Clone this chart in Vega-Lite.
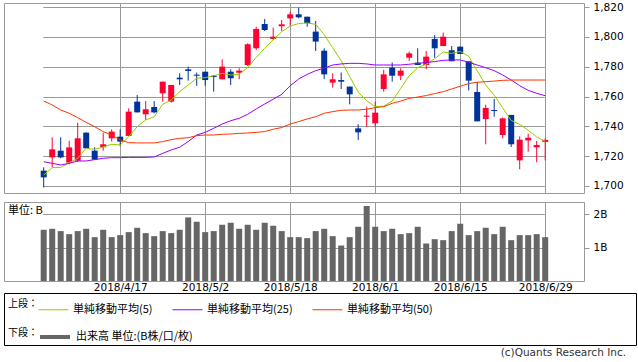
{
  "$schema": "https://vega.github.io/schema/vega-lite/v6.json",
  "padding": {"left": 3, "top": 1, "right": 0, "bottom": 0},
  "background": "white",
  "config": {
    "view": {"stroke": "#999999", "strokeWidth": 1},
    "axis": {"labelFont": "DejaVu Sans", "labelColor": "#000000", "gridColor": "#999999", "gridWidth": 1, "tickColor": "#999999"},
    "legend": {"labelFont": "Noto Sans CJK JP", "titleFont": "Noto Sans CJK JP"}
  },
  "datasets": {
    "px": [
      {"d":"2018/4/4","o":1710.3,"h":1712.5,"l":1699.0,"c":1705.8,"ma5":1707.4,"ma25":1716.3,"ma50":1757.0,"v":1.53},
      {"d":"2018/4/5","o":1719.2,"h":1732.7,"l":1712.5,"c":1724.6,"ma5":1712.3,"ma25":1715.2,"ma50":1754.4,"v":1.56},
      {"d":"2018/4/6","o":1723.7,"h":1732.7,"l":1718.6,"c":1719.2,"ma5":1712.5,"ma25":1714.1,"ma50":1751.0,"v":1.49},
      {"d":"2018/4/9","o":1715.7,"h":1730.4,"l":1714.5,"c":1725.9,"ma5":1715.7,"ma25":1715.2,"ma50":1748.8,"v":1.40},
      {"d":"2018/4/10","o":1717.0,"h":1742.5,"l":1716.0,"c":1732.0,"ma5":1718.6,"ma25":1716.8,"ma50":1745.9,"v":1.49},
      {"d":"2018/4/11","o":1735.8,"h":1736.0,"l":1725.3,"c":1725.3,"ma5":1725.3,"ma25":1716.8,"ma50":1742.7,"v":1.56},
      {"d":"2018/4/12","o":1723.7,"h":1726.0,"l":1717.5,"c":1717.7,"ma5":1724.6,"ma25":1717.7,"ma50":1739.8,"v":1.31},
      {"d":"2018/4/13","o":1726.0,"h":1735.8,"l":1723.7,"c":1728.0,"ma5":1726.2,"ma25":1718.6,"ma50":1736.5,"v":1.53},
      {"d":"2018/4/16","o":1732.0,"h":1738.0,"l":1729.8,"c":1736.5,"ma5":1728.0,"ma25":1719.0,"ma50":1734.2,"v":1.31},
      {"d":"2018/4/17","o":1733.1,"h":1738.0,"l":1726.8,"c":1729.8,"ma5":1727.5,"ma25":1719.0,"ma50":1730.9,"v":1.37},
      {"d":"2018/4/18","o":1733.6,"h":1752.1,"l":1733.6,"c":1749.9,"ma5":1733.1,"ma25":1719.2,"ma50":1729.1,"v":1.46},
      {"d":"2018/4/19","o":1756.6,"h":1761.1,"l":1749.4,"c":1749.4,"ma5":1739.8,"ma25":1719.2,"ma50":1728.9,"v":1.59},
      {"d":"2018/4/20","o":1748.1,"h":1757.0,"l":1744.3,"c":1751.5,"ma5":1744.3,"ma25":1719.2,"ma50":1728.9,"v":1.43},
      {"d":"2018/4/23","o":1753.0,"h":1757.0,"l":1748.8,"c":1749.4,"ma5":1746.5,"ma25":1719.5,"ma50":1728.9,"v":1.34},
      {"d":"2018/4/24","o":1762.2,"h":1770.0,"l":1756.6,"c":1770.0,"ma5":1754.8,"ma25":1721.9,"ma50":1729.8,"v":1.49},
      {"d":"2018/4/25","o":1756.6,"h":1767.8,"l":1755.9,"c":1767.8,"ma5":1757.7,"ma25":1724.2,"ma50":1731.1,"v":1.43},
      {"d":"2018/4/26","o":1772.7,"h":1775.6,"l":1767.8,"c":1771.6,"ma5":1763.3,"ma25":1726.0,"ma50":1732.0,"v":1.53},
      {"d":"2018/4/27","o":1778.3,"h":1780.1,"l":1770.7,"c":1777.2,"ma5":1767.8,"ma25":1729.8,"ma50":1732.4,"v":1.90},
      {"d":"2018/5/1","o":1774.7,"h":1776.1,"l":1767.3,"c":1774.0,"ma5":1772.3,"ma25":1734.2,"ma50":1733.8,"v":1.77},
      {"d":"2018/5/2","o":1776.7,"h":1776.7,"l":1767.3,"c":1771.1,"ma5":1772.7,"ma25":1736.0,"ma50":1734.2,"v":1.46},
      {"d":"2018/5/7","o":1774.0,"h":1774.5,"l":1763.3,"c":1773.2,"ma5":1774.0,"ma25":1738.7,"ma50":1734.2,"v":1.49},
      {"d":"2018/5/8","o":1771.6,"h":1785.0,"l":1771.6,"c":1780.1,"ma5":1775.6,"ma25":1741.6,"ma50":1734.7,"v":1.68},
      {"d":"2018/5/9","o":1776.7,"h":1778.3,"l":1767.8,"c":1772.3,"ma5":1774.5,"ma25":1743.8,"ma50":1734.9,"v":1.74},
      {"d":"2018/5/10","o":1776.0,"h":1779.0,"l":1771.6,"c":1777.4,"ma5":1775.0,"ma25":1745.4,"ma50":1735.3,"v":1.56},
      {"d":"2018/5/11","o":1781.2,"h":1795.7,"l":1780.5,"c":1795.1,"ma5":1779.5,"ma25":1748.1,"ma50":1735.6,"v":1.68},
      {"d":"2018/5/14","o":1792.4,"h":1806.9,"l":1791.3,"c":1805.4,"ma5":1786.3,"ma25":1751.7,"ma50":1736.0,"v":1.53},
      {"d":"2018/5/15","o":1808.7,"h":1812.1,"l":1804.0,"c":1804.7,"ma5":1792.5,"ma25":1755.0,"ma50":1736.5,"v":1.74},
      {"d":"2018/5/16","o":1798.7,"h":1806.3,"l":1798.0,"c":1800.2,"ma5":1798.0,"ma25":1758.2,"ma50":1738.1,"v":1.65},
      {"d":"2018/5/17","o":1807.2,"h":1811.4,"l":1804.0,"c":1808.5,"ma5":1803.5,"ma25":1761.5,"ma50":1739.2,"v":1.49},
      {"d":"2018/5/18","o":1812.5,"h":1817.0,"l":1807.6,"c":1815.2,"ma5":1807.3,"ma25":1767.3,"ma50":1741.6,"v":1.31},
      {"d":"2018/5/21","o":1815.2,"h":1819.7,"l":1812.5,"c":1813.2,"ma5":1809.0,"ma25":1771.8,"ma50":1743.2,"v":1.31},
      {"d":"2018/5/22","o":1813.6,"h":1813.6,"l":1806.9,"c":1809.2,"ma5":1809.4,"ma25":1774.9,"ma50":1745.0,"v":1.28},
      {"d":"2018/5/23","o":1803.6,"h":1810.7,"l":1790.6,"c":1796.9,"ma5":1808.5,"ma25":1777.4,"ma50":1746.5,"v":1.49},
      {"d":"2018/5/24","o":1790.8,"h":1792.4,"l":1771.8,"c":1774.9,"ma5":1801.5,"ma25":1779.0,"ma50":1748.8,"v":1.56},
      {"d":"2018/5/25","o":1769.4,"h":1775.6,"l":1766.0,"c":1771.6,"ma5":1792.8,"ma25":1781.2,"ma50":1749.9,"v":1.34},
      {"d":"2018/5/28","o":1771.1,"h":1776.1,"l":1765.1,"c":1770.0,"ma5":1784.0,"ma25":1781.9,"ma50":1750.8,"v":1.06},
      {"d":"2018/5/29","o":1766.7,"h":1766.7,"l":1754.8,"c":1761.5,"ma5":1773.5,"ma25":1782.3,"ma50":1751.0,"v":1.31},
      {"d":"2018/5/30","o":1738.7,"h":1741.4,"l":1730.9,"c":1736.0,"ma5":1763.0,"ma25":1782.3,"ma50":1751.0,"v":1.62},
      {"d":"2018/5/31","o":1746.5,"h":1753.2,"l":1739.8,"c":1747.2,"ma5":1757.2,"ma25":1781.9,"ma50":1751.5,"v":2.24},
      {"d":"2018/6/1","o":1742.1,"h":1756.6,"l":1739.8,"c":1749.2,"ma5":1753.3,"ma25":1781.2,"ma50":1752.6,"v":1.62},
      {"d":"2018/6/4","o":1765.1,"h":1777.9,"l":1763.3,"c":1774.9,"ma5":1753.6,"ma25":1781.2,"ma50":1753.2,"v":1.49},
      {"d":"2018/6/5","o":1779.4,"h":1782.8,"l":1770.0,"c":1774.0,"ma5":1757.0,"ma25":1781.2,"ma50":1755.5,"v":1.56},
      {"d":"2018/6/6","o":1774.0,"h":1779.0,"l":1771.1,"c":1777.4,"ma5":1765.5,"ma25":1781.2,"ma50":1757.0,"v":1.40},
      {"d":"2018/6/7","o":1786.1,"h":1790.2,"l":1783.9,"c":1789.0,"ma5":1774.0,"ma25":1781.7,"ma50":1758.8,"v":1.43},
      {"d":"2018/6/8","o":1782.8,"h":1792.4,"l":1781.2,"c":1781.2,"ma5":1779.4,"ma25":1782.3,"ma50":1759.7,"v":1.62},
      {"d":"2018/6/11","o":1781.2,"h":1790.6,"l":1778.3,"c":1786.8,"ma5":1781.7,"ma25":1782.8,"ma50":1760.7,"v":1.12},
      {"d":"2018/6/12","o":1798.7,"h":1801.3,"l":1786.1,"c":1792.4,"ma5":1785.4,"ma25":1783.5,"ma50":1762.0,"v":1.25},
      {"d":"2018/6/13","o":1793.9,"h":1802.9,"l":1793.9,"c":1800.2,"ma5":1789.9,"ma25":1784.3,"ma50":1763.3,"v":1.22},
      {"d":"2018/6/14","o":1791.1,"h":1793.9,"l":1783.7,"c":1783.7,"ma5":1789.0,"ma25":1784.6,"ma50":1765.1,"v":1.49},
      {"d":"2018/6/15","o":1793.5,"h":1793.5,"l":1788.6,"c":1788.6,"ma5":1790.3,"ma25":1784.6,"ma50":1766.9,"v":1.71},
      {"d":"2018/6/18","o":1783.7,"h":1783.7,"l":1764.2,"c":1770.7,"ma5":1787.0,"ma25":1783.0,"ma50":1768.7,"v":1.37},
      {"d":"2018/6/19","o":1763.1,"h":1769.8,"l":1743.4,"c":1743.4,"ma5":1777.3,"ma25":1781.2,"ma50":1769.6,"v":1.49},
      {"d":"2018/6/20","o":1744.9,"h":1754.6,"l":1728.0,"c":1752.4,"ma5":1767.8,"ma25":1779.4,"ma50":1770.0,"v":1.59},
      {"d":"2018/6/21","o":1751.0,"h":1758.4,"l":1746.5,"c":1750.3,"ma5":1761.0,"ma25":1777.4,"ma50":1770.4,"v":1.40},
      {"d":"2018/6/22","o":1734.2,"h":1745.9,"l":1732.0,"c":1745.4,"ma5":1752.4,"ma25":1774.5,"ma50":1770.9,"v":1.62},
      {"d":"2018/6/25","o":1747.7,"h":1747.7,"l":1726.2,"c":1728.0,"ma5":1744.0,"ma25":1771.1,"ma50":1771.1,"v":1.22},
      {"d":"2018/6/26","o":1717.2,"h":1733.3,"l":1711.2,"c":1731.1,"ma5":1741.4,"ma25":1767.3,"ma50":1771.1,"v":1.37},
      {"d":"2018/6/27","o":1730.6,"h":1735.1,"l":1723.0,"c":1732.4,"ma5":1737.4,"ma25":1764.2,"ma50":1771.1,"v":1.37},
      {"d":"2018/6/28","o":1726.0,"h":1730.2,"l":1715.9,"c":1727.5,"ma5":1732.9,"ma25":1762.2,"ma50":1771.1,"v":1.40},
      {"d":"2018/6/29","o":1729.6,"h":1731.9,"l":1717.2,"c":1730.9,"ma5":1730.0,"ma25":1760.6,"ma50":1771.1,"v":1.31}
    ],
    "leg1": [
      {"label": "単純移動平均(5)"},
      {"label": "単純移動平均(25)"},
      {"label": "単純移動平均(50)"}
    ],
    "leg2": [
      {"label": "出来高 単位:(B株/口/枚)"}
    ]
  },
  "spacing": -1,
  "vconcat": [
    {
      "spacing": 7,
      "vconcat": [
        {
          "width": 580,
          "height": 190,
          "data": {"name": "px"},
          "encoding": {
            "x": {
              "field": "d", "type": "ordinal",
              "scale": {"type": "point", "padding": 0, "range": [39.7, 541.2],
                "domain": ["2018/4/4","2018/4/5","2018/4/6","2018/4/9","2018/4/10","2018/4/11","2018/4/12","2018/4/13","2018/4/16","2018/4/17","2018/4/18","2018/4/19","2018/4/20","2018/4/23","2018/4/24","2018/4/25","2018/4/26","2018/4/27","2018/5/1","2018/5/2","2018/5/7","2018/5/8","2018/5/9","2018/5/10","2018/5/11","2018/5/14","2018/5/15","2018/5/16","2018/5/17","2018/5/18","2018/5/21","2018/5/22","2018/5/23","2018/5/24","2018/5/25","2018/5/28","2018/5/29","2018/5/30","2018/5/31","2018/6/1","2018/6/4","2018/6/5","2018/6/6","2018/6/7","2018/6/8","2018/6/11","2018/6/12","2018/6/13","2018/6/14","2018/6/15","2018/6/18","2018/6/19","2018/6/20","2018/6/21","2018/6/22","2018/6/25","2018/6/26","2018/6/27","2018/6/28","2018/6/29"]},
              "axis": {"values": ["2018/4/17","2018/5/2","2018/5/18","2018/6/1","2018/6/15","2018/6/29"], "labels": false, "ticks": false, "domain": false, "grid": true, "title": null}
            }
          },
          "layer": [
            {
              "mark": {"type": "rule", "strokeWidth": 1},
              "encoding": {
                "y": {"field": "l", "type": "quantitative",
                  "scale": {"domain": [1695.3, 1822.8], "nice": false, "zero": false},
                  "axis": {"orient": "right", "values": [1700,1720,1740,1760,1780,1800,1820], "labelExpr": "format(datum.value, ',.0f')", "labelOverlap": false, "labelFlush": false, "labelBound": false, "grid": true, "tickSize": 5, "domain": false, "labelPadding": 4, "labelFontSize": 10.5, "title": null}},
                "y2": {"field": "h"},
                "color": {"condition": {"test": "datum.c >= datum.o", "value": "#ff0033"}, "value": "#003399"}
              }
            },
            {
              "mark": {"type": "bar", "width": 6},
              "encoding": {
                "y": {"field": "o", "type": "quantitative",
                  "scale": {"domain": [1695.3, 1822.8], "nice": false, "zero": false},
                  "axis": {"orient": "right", "values": [1700,1720,1740,1760,1780,1800,1820], "labelExpr": "format(datum.value, ',.0f')", "labelOverlap": false, "labelFlush": false, "labelBound": false, "grid": true, "tickSize": 5, "domain": false, "labelPadding": 4, "labelFontSize": 10.5, "title": null}},
                "y2": {"field": "c"},
                "color": {"condition": {"test": "datum.c >= datum.o", "value": "#ff0033"}, "value": "#003399"}
              }
            },
            {
              "transform": [{"fold": ["ma5", "ma25", "ma50"], "as": ["series", "ma"]}],
              "mark": {"type": "line", "strokeWidth": 1},
              "encoding": {
                "y": {"field": "ma", "type": "quantitative",
                  "scale": {"domain": [1695.3, 1822.8], "nice": false, "zero": false},
                  "axis": {"orient": "right", "values": [1700,1720,1740,1760,1780,1800,1820], "labelExpr": "format(datum.value, ',.0f')", "labelOverlap": false, "labelFlush": false, "labelBound": false, "grid": true, "tickSize": 5, "domain": false, "labelPadding": 4, "labelFontSize": 10.5, "title": null}},
                "color": {"field": "series", "type": "nominal",
                  "scale": {"domain": ["ma5", "ma25", "ma50"], "range": ["#99cc00", "#9900ff", "#ff3300"]},
                  "legend": null}
              }
            }
          ]
        },
        {
          "width": 580,
          "height": 79,
          "data": {"name": "px"},
          "title": {"text": "単位: B", "anchor": "start", "frame": "group", "offset": -14, "dx": 4, "font": "Noto Sans CJK JP", "fontSize": 11, "fontWeight": "normal", "color": "#000000"},
          "mark": {"type": "bar", "width": 6, "color": "#666666"},
          "encoding": {
            "x": {
              "field": "d", "type": "ordinal",
              "scale": {"type": "point", "padding": 0, "range": [39.7, 541.2],
                "domain": ["2018/4/4","2018/4/5","2018/4/6","2018/4/9","2018/4/10","2018/4/11","2018/4/12","2018/4/13","2018/4/16","2018/4/17","2018/4/18","2018/4/19","2018/4/20","2018/4/23","2018/4/24","2018/4/25","2018/4/26","2018/4/27","2018/5/1","2018/5/2","2018/5/7","2018/5/8","2018/5/9","2018/5/10","2018/5/11","2018/5/14","2018/5/15","2018/5/16","2018/5/17","2018/5/18","2018/5/21","2018/5/22","2018/5/23","2018/5/24","2018/5/25","2018/5/28","2018/5/29","2018/5/30","2018/5/31","2018/6/1","2018/6/4","2018/6/5","2018/6/6","2018/6/7","2018/6/8","2018/6/11","2018/6/12","2018/6/13","2018/6/14","2018/6/15","2018/6/18","2018/6/19","2018/6/20","2018/6/21","2018/6/22","2018/6/25","2018/6/26","2018/6/27","2018/6/28","2018/6/29"]},
              "axis": {"values": ["2018/4/17","2018/5/2","2018/5/18","2018/6/1","2018/6/15","2018/6/29"], "labelAngle": 0, "labelFontSize": 10.5, "labelPadding": 1, "labelOverlap": false, "ticks": false, "domain": false, "grid": true, "title": null}
            },
            "y": {"field": "v", "type": "quantitative",
              "scale": {"domain": [0, 2.36], "nice": false},
              "axis": {"orient": "right", "values": [1, 2], "labelExpr": "datum.value + 'B'", "labelOverlap": false, "grid": true, "tickSize": 5, "domain": false, "labelPadding": 4, "labelFontSize": 10.5, "title": null}}
          }
        }
      ]
    },
    {
      "width": 632,
      "height": 52,
      "view": {"stroke": "#000000", "strokeWidth": 1},
      "title": {"text": "(c)Quants Research Inc.", "orient": "bottom", "anchor": "end", "frame": "group", "offset": 3, "dx": -10, "font": "DejaVu Sans", "fontSize": 10.5, "fontWeight": "normal", "color": "#333333"},
      "layer": [
        {
          "data": {"name": "leg1"},
          "mark": {"type": "point", "opacity": 0, "size": 0},
          "encoding": {
            "color": {"field": "label", "type": "nominal",
              "scale": {"domain": ["単純移動平均(5)", "単純移動平均(25)", "単純移動平均(50)"], "range": ["#99cc00", "#9900ff", "#ff3300"]},
              "legend": {"title": "上段：", "titleOrient": "left", "titleAnchor": "middle", "titleBaseline": "middle", "orient": "none", "legendX": 4, "legendY": 1, "direction": "horizontal", "symbolType": "stroke", "symbolSize": 900, "symbolStrokeWidth": 1, "symbolOpacity": 1, "labelFontSize": 11, "titleFontSize": 10, "titleFontWeight": "normal", "titlePadding": 0, "columnPadding": 17, "labelOffset": 4, "padding": 0, "labelColor": "#000000", "titleColor": "#000000", "labelLimit": 300}}
          }
        },
        {
          "data": {"name": "leg2"},
          "mark": {"type": "point", "opacity": 0, "size": 0},
          "encoding": {
            "color": {"field": "label", "type": "nominal",
              "scale": {"domain": ["出来高 単位:(B株/口/枚)"], "range": ["#666666"]},
              "legend": {"title": "下段：", "titleOrient": "left", "titleAnchor": "middle", "titleBaseline": "middle", "orient": "none", "legendX": 4, "legendY": 27, "direction": "horizontal", "symbolType": "stroke", "symbolSize": 900, "symbolStrokeWidth": 4, "symbolOpacity": 1, "labelFontSize": 11, "titleFontSize": 10, "titleFontWeight": "normal", "titlePadding": 0, "labelOffset": 4, "padding": 0, "labelColor": "#000000", "titleColor": "#000000", "labelLimit": 300}}
          }
        }
      ],
      "resolve": {"scale": {"color": "independent"}, "legend": {"color": "independent"}}
    }
  ]
}
